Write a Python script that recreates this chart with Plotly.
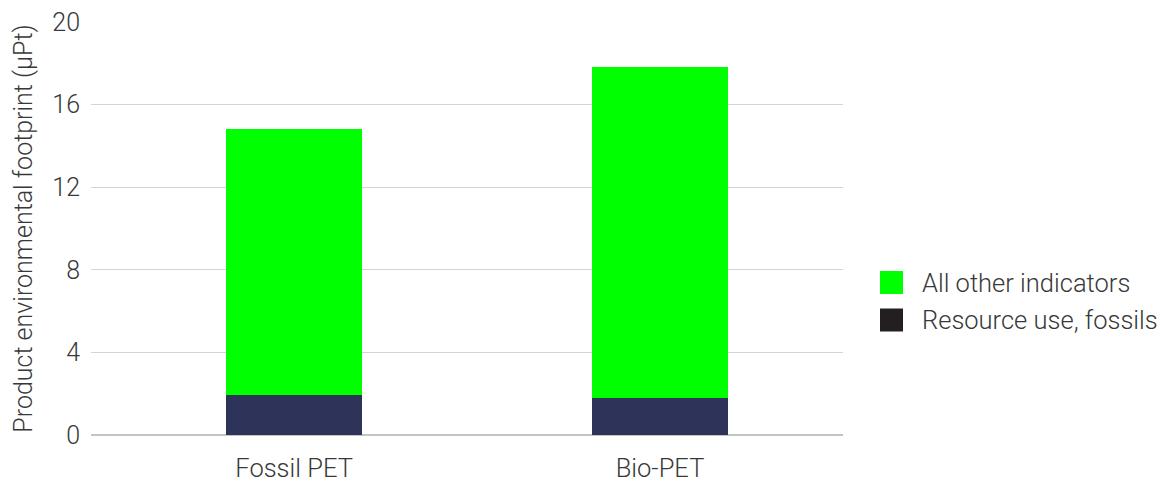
import plotly.graph_objects as go

categories = ["Fossil PET", "Bio-PET"]
resource_fossils = [1.94, 1.79]
other_indicators = [12.88, 16.03]
series_names = ["All other indicators", "Resource use, fossils"]
legend_colors = ["#00ff00", "#231f20"]
y_ticks = [0, 4, 8, 12, 16, 20]

GREEN = "#00ff00"
NAVY = "#2e3359"
FONT = "Roboto"
TXT = "#383838"
W = 300

fig = go.Figure()
fig.add_trace(go.Bar(x=categories, y=resource_fossils, name=series_names[1],
                     marker=dict(color=NAVY, line=dict(width=0)), width=0.373,
                     showlegend=False))
fig.add_trace(go.Bar(x=categories, y=other_indicators, name=series_names[0],
                     marker=dict(color=GREEN, line=dict(width=0)), width=0.373,
                     showlegend=False))

# custom legend (large square swatches)
legend_x0 = 880
legend_y_centers = [282.5, 320]
for name, col, yc in zip(series_names, legend_colors, legend_y_centers):
    fig.add_shape(type="rect", xref="paper", yref="paper",
                  x0=(legend_x0 - 91) / 752, x1=(legend_x0 + 23 - 91) / 752,
                  y0=(435 - (yc + 11.5)) / 413, y1=(435 - (yc - 11.5)) / 413,
                  fillcolor=col, line=dict(width=0))
    fig.add_annotation(xref="paper", yref="paper", x=(legend_x0 + 40 - 91) / 752,
                       y=(435 - yc) / 413, xanchor="left", yanchor="middle",
                       text=name, showarrow=False,
                       font=dict(family=FONT, size=25.5, color=TXT, weight=W))

fig.update_layout(
    width=1167, height=482,
    barmode="stack",
    plot_bgcolor="white", paper_bgcolor="white",
    margin=dict(l=91, r=324, t=22, b=47, pad=0),
    font=dict(family=FONT, size=25, color=TXT, weight=W),
    showlegend=False,
)
fig.update_xaxes(range=[-0.555, 1.5], showgrid=False, showline=False, ticks="",
                 tickfont=dict(size=25.5, color=TXT, weight=W), ticklabelstandoff=15,
                 automargin=False)
fig.update_yaxes(range=[0, 20], tickvals=y_ticks, showgrid=True, gridcolor="#d3d3d3",
                 gridwidth=1, zeroline=True, zerolinecolor="#c4c4c4", zerolinewidth=2,
                 showline=False, ticks="", tickfont=dict(size=25, color=TXT, weight=W),
                 ticklabelstandoff=10, automargin=False,
                 title=dict(text="Product environmental footprint (µPt)",
                            font=dict(size=25, color=TXT, weight=W), standoff=12))

fig.write_html("out.html")
